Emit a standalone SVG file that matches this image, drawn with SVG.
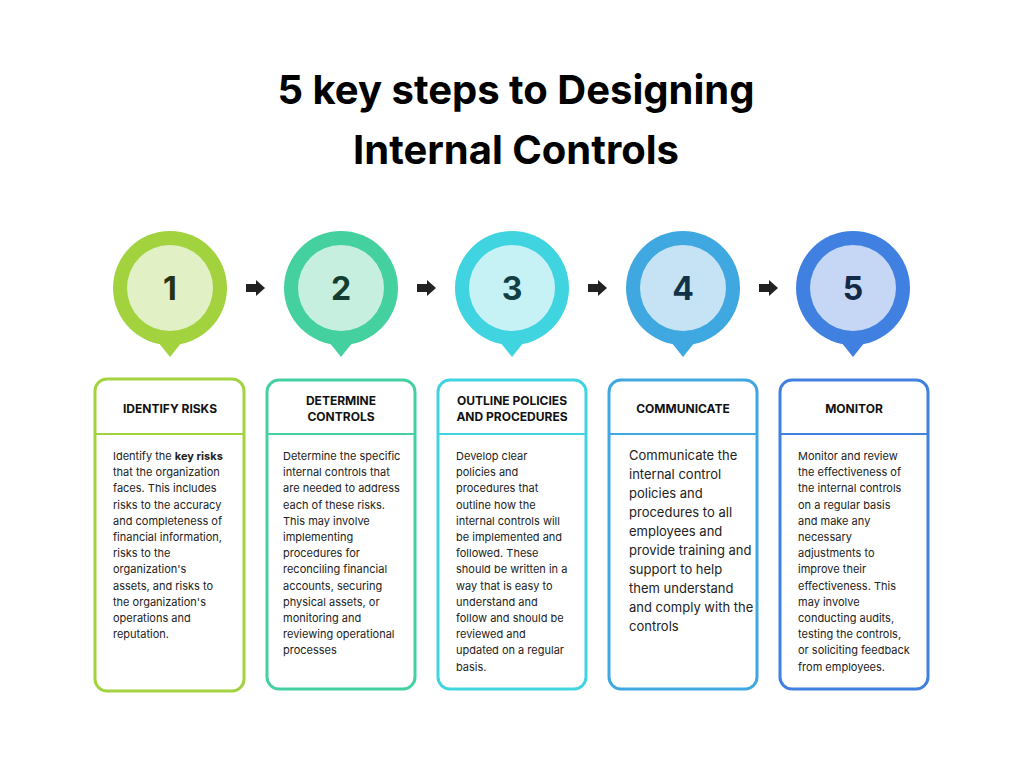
<svg xmlns="http://www.w3.org/2000/svg" width="1024" height="768" viewBox="0 0 1024 768">
<style>
.t{font-family:Inter,"Liberation Sans",sans-serif;font-weight:700;font-size:40px;fill:#000;text-anchor:middle}
.n{font-family:Inter,"Liberation Sans",sans-serif;font-weight:700;font-size:32px;text-anchor:middle}
.h{font-family:Inter,"Liberation Sans",sans-serif;font-weight:700;font-size:12px;fill:#111;text-anchor:middle}
.b{font-family:Inter,"Liberation Sans",sans-serif;font-size:11px;fill:#222}
.b4{font-family:Inter,"Liberation Sans",sans-serif;font-size:13px;fill:#222}
.box{fill:#fff;stroke-width:3}
</style>
<defs><path id="arr" d="M0,-4 H10 V-8 L19,0 L10,8 V4 H0 Z" fill="#222"/></defs>
<rect width="1024" height="768" fill="#fff"/>
<text class="t" x="516" y="104">5 key steps to Designing</text>
<text class="t" x="516" y="164">Internal Controls</text>
<g id="connectors">
<use href="#arr" x="246" y="288"/><use href="#arr" x="417" y="288"/><use href="#arr" x="588" y="288"/><use href="#arr" x="759" y="288"/>
</g>
<g id="node1">
<circle cx="170" cy="288" r="57" fill="#A2D33F"/><path d="M158,342 L170,357 L182,342Z" fill="#A2D33F"/>
<circle cx="170" cy="288" r="43" fill="#E2F0C6"/><text class="n" x="170" y="300" fill="#26330f">1</text>
<rect class="box" x="95" y="379" width="149" height="312" rx="12" stroke="#A2D33F"/><line x1="95" y1="434" x2="244" y2="434" stroke="#A2D33F" stroke-width="2"/>
<text class="h" x="170" y="413">IDENTIFY RISKS</text>
<text class="b" x="113" y="460"><tspan x="113">Identify the <tspan font-weight="700">key risks</tspan></tspan><tspan x="113" dy="16.2">that the organization</tspan><tspan x="113" dy="16.2">faces. This includes</tspan><tspan x="113" dy="16.2">risks to the accuracy</tspan><tspan x="113" dy="16.2">and completeness of</tspan><tspan x="113" dy="16.2">financial information,</tspan><tspan x="113" dy="16.2">risks to the</tspan><tspan x="113" dy="16.2">organization's</tspan><tspan x="113" dy="16.2">assets, and risks to</tspan><tspan x="113" dy="16.2">the organization's</tspan><tspan x="113" dy="16.2">operations and</tspan><tspan x="113" dy="16.2">reputation.</tspan></text>
</g>
<g id="node2">
<circle cx="341" cy="288" r="57" fill="#45D0A0"/><path d="M329,342 L341,357 L353,342Z" fill="#45D0A0"/>
<circle cx="341" cy="288" r="43" fill="#C6EFDF"/><text class="n" x="341" y="300" fill="#143d30">2</text>
<rect class="box" x="267" y="380" width="148" height="309" rx="12" stroke="#45D0A0"/><line x1="267" y1="434" x2="415" y2="434" stroke="#45D0A0" stroke-width="2"/>
<text class="h" x="341" y="405">DETERMINE</text><text class="h" x="341" y="421">CONTROLS</text>
<text class="b" x="283" y="460"><tspan x="283">Determine the specific</tspan><tspan x="283" dy="16.2">internal controls that</tspan><tspan x="283" dy="16.2">are needed to address</tspan><tspan x="283" dy="16.2">each of these risks.</tspan><tspan x="283" dy="16.2">This may involve</tspan><tspan x="283" dy="16.2">implementing</tspan><tspan x="283" dy="16.2">procedures for</tspan><tspan x="283" dy="16.2">reconciling financial</tspan><tspan x="283" dy="16.2">accounts, securing</tspan><tspan x="283" dy="16.2">physical assets, or</tspan><tspan x="283" dy="16.2">monitoring and</tspan><tspan x="283" dy="16.2">reviewing operational</tspan><tspan x="283" dy="16.2">processes</tspan></text>
</g>
<g id="node3">
<circle cx="512" cy="288" r="57" fill="#40D4E0"/><path d="M500,342 L512,357 L524,342Z" fill="#40D4E0"/>
<circle cx="512" cy="288" r="43" fill="#C6F1F5"/><text class="n" x="512" y="300" fill="#123f44">3</text>
<rect class="box" x="438" y="380" width="148" height="309" rx="12" stroke="#40D4E0"/><line x1="438" y1="434" x2="586" y2="434" stroke="#40D4E0" stroke-width="2"/>
<text class="h" x="512" y="405">OUTLINE POLICIES</text><text class="h" x="512" y="421">AND PROCEDURES</text>
<text class="b" x="456" y="460"><tspan x="456">Develop clear</tspan><tspan x="456" dy="16.2">policies and</tspan><tspan x="456" dy="16.2">procedures that</tspan><tspan x="456" dy="16.2">outline how the</tspan><tspan x="456" dy="16.2">internal controls will</tspan><tspan x="456" dy="16.2">be implemented and</tspan><tspan x="456" dy="16.2">followed. These</tspan><tspan x="456" dy="16.2">should be written in a</tspan><tspan x="456" dy="16.2">way that is easy to</tspan><tspan x="456" dy="16.2">understand and</tspan><tspan x="456" dy="16.2">follow and should be</tspan><tspan x="456" dy="16.2">reviewed and</tspan><tspan x="456" dy="16.2">updated on a regular</tspan><tspan x="456" dy="16.2">basis.</tspan></text>
</g>
<g id="node4">
<circle cx="683" cy="288" r="57" fill="#40A8E0"/><path d="M671,342 L683,357 L695,342Z" fill="#40A8E0"/>
<circle cx="683" cy="288" r="43" fill="#C5E3F5"/><text class="n" x="683" y="300" fill="#123347">4</text>
<rect class="box" x="609" y="380" width="148" height="309" rx="12" stroke="#40A8E0"/><line x1="609" y1="434" x2="757" y2="434" stroke="#40A8E0" stroke-width="2"/>
<text class="h" x="683" y="413">COMMUNICATE</text>
<text class="b4" x="629" y="460"><tspan x="629">Communicate the</tspan><tspan x="629" dy="19">internal control</tspan><tspan x="629" dy="19">policies and</tspan><tspan x="629" dy="19">procedures to all</tspan><tspan x="629" dy="19">employees and</tspan><tspan x="629" dy="19">provide training and</tspan><tspan x="629" dy="19">support to help</tspan><tspan x="629" dy="19">them understand</tspan><tspan x="629" dy="19">and comply with the</tspan><tspan x="629" dy="19">controls</tspan></text>
</g>
<g id="node5">
<circle cx="853" cy="288" r="57" fill="#4080E0"/><path d="M841,342 L853,357 L865,342Z" fill="#4080E0"/>
<circle cx="853" cy="288" r="43" fill="#C5D7F5"/><text class="n" x="853" y="300" fill="#122847">5</text>
<rect class="box" x="780" y="380" width="148" height="309" rx="12" stroke="#4080E0"/><line x1="780" y1="434" x2="928" y2="434" stroke="#4080E0" stroke-width="2"/>
<text class="h" x="854" y="413">MONITOR</text>
<text class="b" x="798" y="460"><tspan x="798">Monitor and review</tspan><tspan x="798" dy="16.2">the effectiveness of</tspan><tspan x="798" dy="16.2">the internal controls</tspan><tspan x="798" dy="16.2">on a regular basis</tspan><tspan x="798" dy="16.2">and make any</tspan><tspan x="798" dy="16.2">necessary</tspan><tspan x="798" dy="16.2">adjustments to</tspan><tspan x="798" dy="16.2">improve their</tspan><tspan x="798" dy="16.2">effectiveness. This</tspan><tspan x="798" dy="16.2">may involve</tspan><tspan x="798" dy="16.2">conducting audits,</tspan><tspan x="798" dy="16.2">testing the controls,</tspan><tspan x="798" dy="16.2">or soliciting feedback</tspan><tspan x="798" dy="16.2">from employees.</tspan></text>
</g>
</svg>
